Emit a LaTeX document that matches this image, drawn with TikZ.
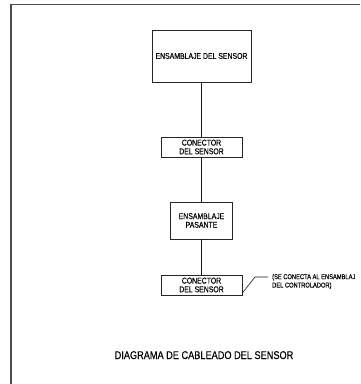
\documentclass[tikz,border=0pt]{standalone}
\usepackage{fontspec}
\newfontfamily\condfont[FakeStretch=0.82, FakeBold=0.25]{Liberation Sans}
\usetikzlibrary{positioning}

\begin{document}
\begin{tikzpicture}[
			x=1pt, y=-1pt,
			box/.style={draw=black!85, line width=0.8pt, inner sep=0pt, align=center,
				font=\condfont\fontsize{8.4}{8.7}\selectfont},
			wire/.style={draw=black!90, line width=0.8pt},
			frame/.style={draw=black!70, line width=1.2pt}
		]
			\useasboundingbox (0,0) rectangle (360,384);
			% marco
			\draw[frame] (11,384) -- (11,4.7) -- (360,4.7);

			% bloques del cableado
			\node[box, minimum width=99pt, minimum height=52pt] (sa) at (201.5,56) {ENSAMBLAJE DEL SENSOR};
			\node[box, minimum width=81pt, minimum height=20pt] (c1) at (201.5,147) {CONECTOR\\DEL SENSOR};
			\node[box, minimum width=62pt, minimum height=37pt] (pa) at (201.5,220.5) {ENSAMBLAJE\\PASANTE};
			\node[box, minimum width=81pt, minimum height=20pt] (c2) at (201.5,285) {CONECTOR\\DEL SENSOR};
			\path[wire]
				(sa) -- (c1)
				(c1) -- (pa)
				(pa) -- (c2);

			% nota del conector
			\node[anchor=west, inner sep=0pt, align=left,
				font=\condfont\fontsize{7}{8.4}\selectfont] (nota) at (272,281.5)
				{(SE CONECTA AL ENSAMBLAJ\\DEL CONTROLADOR)};
			\coordinate (k1) at (255,277);
			\coordinate (k2) at (268,277);
			\draw[wire, line width=0.6pt] ([yshift=-8pt]c2.east) -- (k1) -- (k2);

			% titulo
			\node[anchor=base, inner sep=0pt, font=\condfont\fontsize{11.2}{12}\selectfont] (titulo) at (204,359)
				{DIAGRAMA DE CABLEADO DEL SENSOR};
		\end{tikzpicture}
\end{document}
